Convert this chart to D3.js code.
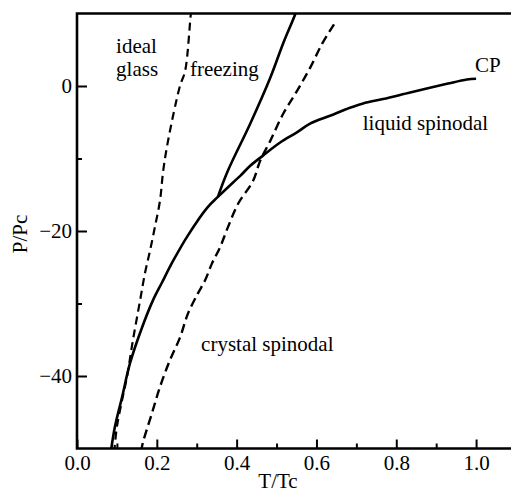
<!DOCTYPE html>
<html>
<head>
<meta charset="utf-8">
<script src="https://cdn.jsdelivr.net/npm/d3@7"></script>
<style>
  body { margin: 0; background: #fff; }
  svg text { font-family: 'Liberation Serif', 'Times New Roman', Times, serif; font-size: 21px; fill: #000; }
</style>
</head>
<body>
<svg id="chart" width="511" height="493" font-family="Liberation Serif"></svg>
<script>

// values, [ T/Tc, P/Pc ]
var liquidSpinodal = [
  [ 1.000, 1.0 ], [ 0.977, 0.9 ], [ 0.927, 0.3 ], [ 0.835, -0.9 ], [ 0.767, -1.8 ],
  [ 0.717, -2.4 ], [ 0.684, -3.0 ], [ 0.634, -4.1 ], [ 0.584, -5.2 ], [ 0.551, -6.4 ],
  [ 0.509, -7.8 ], [ 0.466, -9.6 ], [ 0.434, -11.0 ], [ 0.409, -12.4 ], [ 0.391, -13.3 ],
  [ 0.353, -15.3 ], [ 0.326, -16.8 ], [ 0.278, -20.6 ], [ 0.241, -24.1 ], [ 0.213, -27.1 ],
  [ 0.190, -29.6 ], [ 0.163, -33.3 ], [ 0.133, -38.2 ], [ 0.113, -42.9 ], [ 0.095, -47.0 ],
  [ 0.086, -50.0 ]
];

var freezing = [
  [ 0.550, 10.5 ], [ 0.546, 9.8 ], [ 0.516, 5.8 ], [ 0.484, 1.1 ], [ 0.434, -5.2 ],
  [ 0.378, -11.7 ], [ 0.353, -15.3 ]
];

var idealGlass = [
  [ 0.287, 10.5 ], [ 0.285, 9.8 ], [ 0.271, 2.1 ], [ 0.258, 0.0 ], [ 0.228, -7.6 ],
  [ 0.216, -11.7 ], [ 0.208, -15.8 ], [ 0.195, -19.5 ], [ 0.183, -22.7 ], [ 0.170, -25.9 ],
  [ 0.158, -29.6 ], [ 0.140, -35.1 ], [ 0.125, -40.2 ], [ 0.113, -43.3 ], [ 0.100, -47.0 ],
  [ 0.094, -50.0 ]
];

var crystalSpinodal = [
  [ 0.644, 8.5 ], [ 0.614, 5.8 ], [ 0.584, 2.5 ], [ 0.551, -0.7 ], [ 0.516, -3.9 ],
  [ 0.484, -7.6 ], [ 0.459, -10.3 ], [ 0.441, -13.1 ], [ 0.404, -16.2 ], [ 0.378, -19.5 ],
  [ 0.358, -22.3 ], [ 0.338, -24.5 ], [ 0.321, -26.8 ], [ 0.303, -28.6 ], [ 0.278, -31.4 ],
  [ 0.258, -34.7 ], [ 0.233, -37.8 ], [ 0.208, -41.5 ], [ 0.188, -45.1 ], [ 0.165, -49.2 ],
  [ 0.162, -50.0 ]
];

var xTicks = [ 0, 0.2, 0.4, 0.6, 0.8, 1.0 ],
  xMinor = [ 0.1, 0.3, 0.5, 0.7, 0.9 ],
  yTicks = [ -40, -20, 0 ],
  yMinor = [ -30, -10 ];

var labels = [
  { text: 'ideal', t: 0.098, p: 4.5 },
  { text: 'glass', t: 0.098, p: 1.4 },
  { text: 'freezing', t: 0.283, p: 1.4 },
  { text: 'CP', t: 0.997, p: 2.0 },
  { text: 'liquid spinodal', t: 0.716, p: -6.1 },
  { text: 'crystal spinodal', t: 0.311, p: -36.6 }
];

var svg = d3.select( '#chart' );

var x = d3.scaleLinear()
  .domain( [ 0, 1.1 ] )
  .range( [ 77, 516 ] );

var y = d3.scaleLinear()
  .domain( [ -50, 10 ] )
  .range( [ 448.5, 13.5 ] );

svg.append( 'defs' ).append( 'clipPath' )
  .attr( 'id', 'plot' )
  .append( 'rect' )
    .attr( 'x', x( 0 ) )
    .attr( 'y', y( 10 ) )
    .attr( 'width', x( 1.1 ) - x( 0 ) )
    .attr( 'height', y( -50 ) - y( 10 ) );

/* Axes */

svg.append( 'g' )
  .attr( 'transform', 'translate(0,' + y( -50 ) + ')' )
  .call( d3.axisBottom( x ).tickValues( xTicks ).tickFormat( d3.format( '.1f' ) )
    .tickSize( -9 ).tickPadding( 7 ) );

svg.append( 'g' )
  .attr( 'transform', 'translate(0,' + y( -50 ) + ')' )
  .call( d3.axisBottom( x ).tickValues( xMinor ).tickFormat( '' ).tickSize( -5 ) );

svg.append( 'g' )
  .attr( 'transform', 'translate(' + x( 0 ) + ',0)' )
  .call( d3.axisLeft( y ).tickValues( yTicks ).tickSize( -10 ).tickPadding( 5 ) );

svg.append( 'g' )
  .attr( 'transform', 'translate(' + x( 0 ) + ',0)' )
  .call( d3.axisLeft( y ).tickValues( yMinor ).tickFormat( '' ).tickSize( -5 ) );

svg.selectAll( '.domain' ).remove();
svg.selectAll( 'g' ).attr( 'font-family', null ).attr( 'font-size', null );
svg.selectAll( '.tick line' )
  .attr( 'stroke', '#000' )
  .attr( 'stroke-width', 2 );

// frame: top, left and bottom (the right side runs off the picture)
svg.append( 'path' )
  .attr( 'd', 'M' + ( x( 1.1 ) + 5 ) + ',' + y( 10 ) +
    'H' + x( 0 ) + 'V' + y( -50 ) + 'H' + ( x( 1.1 ) + 5 ) )
  .attr( 'fill', 'none' )
  .attr( 'stroke', '#000' )
  .attr( 'stroke-width', 2.6 );

svg.append( 'text' )
  .attr( 'x', 278 )
  .attr( 'y', 488 )
  .attr( 'text-anchor', 'middle' )
  .text( 'T/Tc' );

svg.append( 'text' )
  .attr( 'transform', 'translate(27,234) rotate(-90)' )
  .attr( 'text-anchor', 'middle' )
  .text( 'P/Pc' );

/* Curves */

var line = d3.line()
  .curve( d3.curveCatmullRom )
  .x( d => x( d[ 0 ] ) )
  .y( d => y( d[ 1 ] ) );

var curves = [
  { values: liquidSpinodal, dash: null, w: 2.6 },
  { values: freezing, dash: null, w: 2.6 },
  { values: idealGlass, dash: '8,5', w: 2.2 },
  { values: crystalSpinodal, dash: '9,5', w: 2.4 }
];

svg.append( 'g' )
  .attr( 'clip-path', 'url(#plot)' )
  .selectAll( 'path' )
  .data( curves )
  .enter().append( 'path' )
    .attr( 'd', d => line( d.values ) )
    .attr( 'fill', 'none' )
    .attr( 'stroke', '#000' )
    .attr( 'stroke-width', d => d.w )
    .attr( 'stroke-dasharray', d => d.dash );

/* Labels */

svg.append( 'g' )
  .selectAll( 'text' )
  .data( labels )
  .enter().append( 'text' )
    .attr( 'x', d => x( d.t ) )
    .attr( 'y', d => y( d.p ) )
    .text( d => d.text );

</script>
</body>
</html>
